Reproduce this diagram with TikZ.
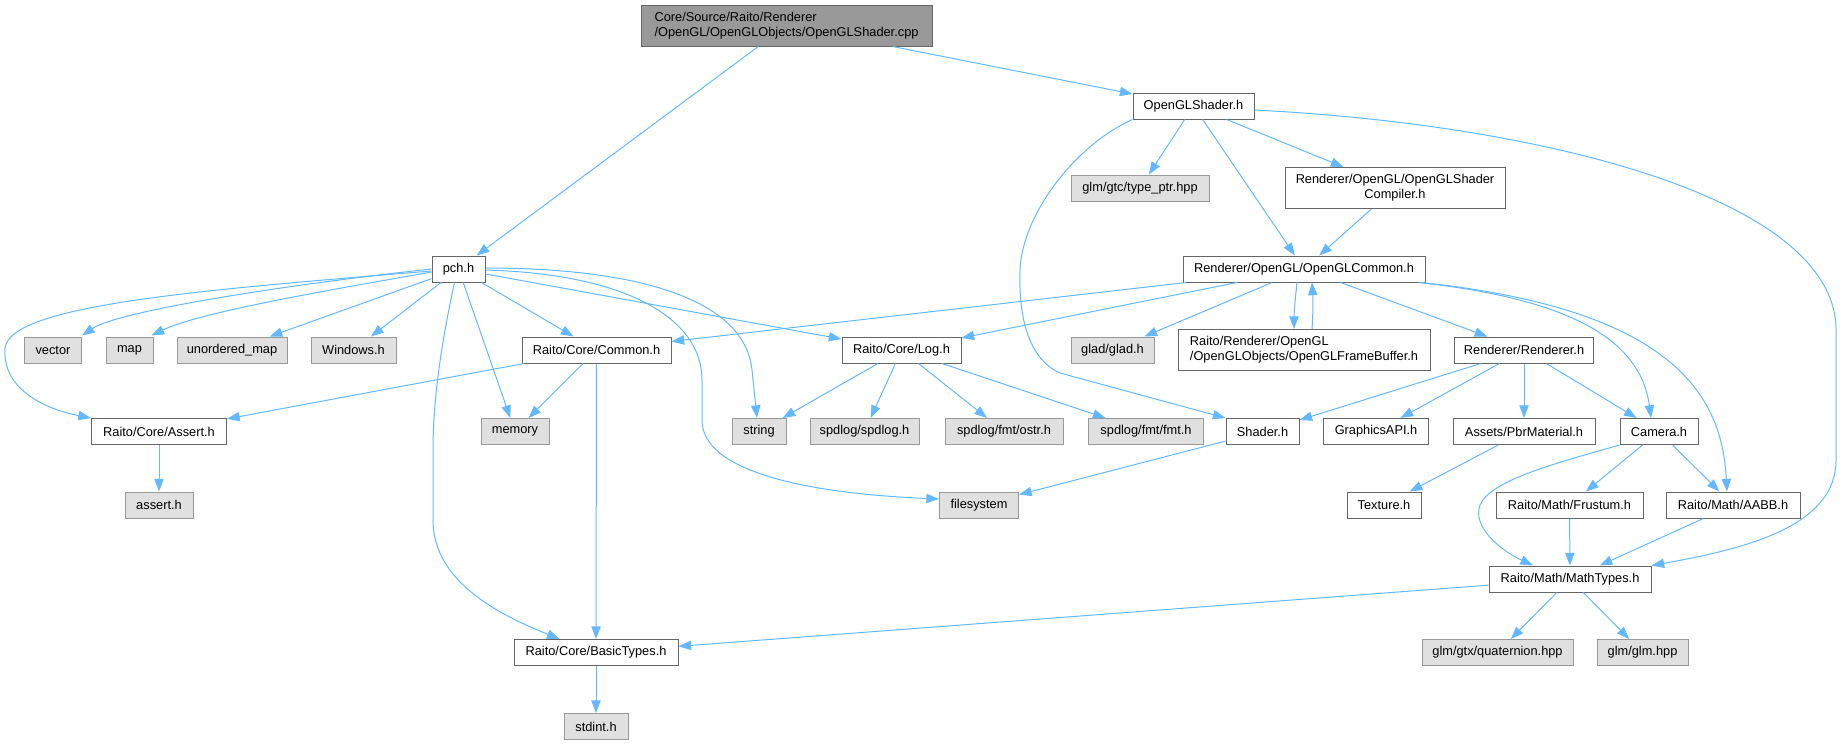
\documentclass[tikz,border=0pt]{standalone}
\usepackage{fontspec}
\setmainfont{Liberation Sans}
\usetikzlibrary{arrows.meta,calc}
\definecolor{edgec}{HTML}{63B8FF}
\definecolor{bordwhite}{HTML}{666666}
\definecolor{bordext}{HTML}{999999}
\definecolor{fillext}{HTML}{E0E0E0}
\definecolor{fillroot}{HTML}{999999}
\tikzset{
  box/.style={draw=bordwhite, fill=white, line width=0.75pt, inner sep=0pt,
    minimum height=19.5pt, font=\fontsize{9.6}{11.25}\selectfont},
  ext/.style={box, draw=bordext, fill=fillext},
  rootbox/.style={box, draw=bordwhite, fill=fillroot},
  two/.style={minimum height=30.75pt},
  bw/.style={minimum width=#1*0.75pt},
  conn/.style={draw=edgec, line width=0.75pt, -{Triangle[length=9.5pt,width=7pt]}},
}
\begin{document}
\begin{tikzpicture}[x=0.75pt,y=-0.75pt]
\useasboundingbox (0,0) rectangle (1844,744);
% row 0
\node[rootbox,bw=291,two,align=left] (root) at (786.5,25.5) {Core/Source/Raito/Renderer\\/OpenGL/OpenGLObjects/OpenGLShader.cpp};
% row 1
\node[box,bw=121] (oglsh) at (1193.5,106) {OpenGLShader.h};
% row 2
\node[ext,bw=138] (typeptr) at (1140,188) {glm/gtc/type\_ptr.hpp};
\node[box,bw=220,two,align=center] (compiler) at (1395,188) {Renderer/OpenGL/OpenGLShader\\Compiler.h};
% row 3
\node[box,bw=53] (pch) at (458.5,269) {pch.h};
\node[box,bw=242] (oglc) at (1304,269) {Renderer/OpenGL/OpenGLCommon.h};
% row 4
\node[ext,bw=57] (vector) at (53,350) {vector};
\node[ext,bw=47] (map) at (129.5,350) {map};
\node[ext,bw=110] (umap) at (232,350) {unordered\_map};
\node[ext,bw=85] (windows) at (353.5,350) {Windows.h};
\node[box,bw=149] (corecommon) at (596.5,350) {Raito/Core/Common.h};
\node[box,bw=119] (log) at (901.5,350) {Raito/Core/Log.h};
\node[ext,bw=83] (glad) at (1112.5,350) {glad/glad.h};
\node[box,bw=252,two,align=left] (fb) at (1304,350) {Raito/Renderer/OpenGL\\/OpenGLObjects/OpenGLFrameBuffer.h};
\node[box,bw=139] (renderer) at (1524,350) {Renderer/Renderer.h};
% row 5
\node[box,bw=135] (assert) at (159,431.5) {Raito/Core/Assert.h};
\node[ext,bw=68] (memory) at (515,431.5) {memory};
\node[ext,bw=54] (string) at (759,431.5) {string};
\node[ext,bw=109] (spdlog) at (864.5,431.5) {spdlog/spdlog.h};
\node[ext,bw=118] (ostr) at (1004,431.5) {spdlog/fmt/ostr.h};
\node[ext,bw=115] (fmt) at (1146,431.5) {spdlog/fmt/fmt.h};
\node[box,bw=73] (shader) at (1262.5,431.5) {Shader.h};
\node[box,bw=105] (gapi) at (1376,431.5) {GraphicsAPI.h};
\node[box,bw=142] (pbr) at (1524,431.5) {Assets/PbrMaterial.h};
\node[box,bw=78] (camera) at (1659,431.5) {Camera.h};
% row 6
\node[ext,bw=68] (asserth) at (159,505) {assert.h};
\node[ext,bw=79] (filesystem) at (979,505) {filesystem};
\node[box,bw=74] (texture) at (1384,505) {Texture.h};
\node[box,bw=147] (frustum) at (1569.5,505) {Raito/Math/Frustum.h};
\node[box,bw=134] (aabb) at (1733,505) {Raito/Math/AABB.h};
% row 7
\node[box,bw=162] (mathtypes) at (1570,579) {Raito/Math/MathTypes.h};
% row 8
\node[box,bw=164] (basictypes) at (596,652.5) {Raito/Core/BasicTypes.h};
\node[ext,bw=151] (quat) at (1497.5,652.5) {glm/gtx/quaternion.hpp};
\node[ext,bw=91] (glmhpp) at (1642.5,652.5) {glm/glm.hpp};
% row 9
\node[ext,bw=64] (stdint) at (596,726.5) {stdint.h};

% edges from root
\draw[conn] (root) -- (pch);
\draw[conn] (root) -- (oglsh);
% edges from OpenGLShader.h
\draw[conn] (oglsh) -- (typeptr);
\draw[conn] (oglsh) -- (oglc);
\draw[conn] (oglsh) -- (compiler);
\draw[conn] (oglsh.south west) .. controls (1075,145) and (1022,215) .. (1020,270)
   .. controls (1018,330) and (1035,362) .. (1060,373) -- (shader.north west);
\draw[conn] ($(oglsh.east)+(0,4)$) .. controls (1550,125) and (1836,200) .. (1836,330)
   -- (1836,460) .. controls (1836,525) and (1750,548) .. (mathtypes.north east);
\draw[conn] (compiler) -- (oglc);
% edges from pch.h
\draw[conn] ($(pch.west)+(0,0)$) .. controls (300,283) and (120,310) .. ($(vector.north)+(29,-1)$);
\draw[conn] ($(pch.west)+(0,3)$) .. controls (330,290) and (200,312) .. ($(map.north)+(22,-1)$);
\draw[conn] (pch) -- (umap);
\draw[conn] (pch) -- (windows);
\draw[conn] (pch) -- (corecommon);
\draw[conn] (pch) -- (log);
\draw[conn] (pch) -- (memory);
\draw[conn] ($(pch.west)+(0,2)$) .. controls (200,290) and (10,305) .. (5,348)
   .. controls (2,392) and (50,410) .. (assert.north west);
\draw[conn] ($(pch.south)+(-4,0)$) .. controls (441,345) and (433,400) .. (433,450)
   -- (433,520) .. controls (433,582) and (500,615) .. ($(basictypes.north west)+(46,0)$);
\draw[conn] ($(pch.east)+(0,-1)$) .. controls (640,268) and (745,300) .. (752,370) -- ($(string.north)+(-2,0)$);
\draw[conn] ($(pch.east)+(0,1)$) .. controls (630,274) and (702,320) .. (702,380)
   -- (702,420) .. controls (702,470) and (800,493) .. ($(filesystem.west)+(0,-6)$);
% edges from OpenGLCommon.h
\draw[conn] (oglc) -- (corecommon);
\draw[conn] (oglc) -- (log);
\draw[conn] (oglc) -- (glad);
\draw[conn] ($(oglc.south)+(-7,0)$) .. controls (1295,300) and (1294,315) .. ($(fb.north)+(-10,0)$);
\draw[conn] ($(fb.north)+(8,0)$) .. controls (1313,315) and (1313,300) .. ($(oglc.south)+(8,0)$);
\draw[conn] (oglc) -- (renderer);
\draw[conn] ($(oglc.south east)+(-7,0)$) .. controls (1560,298) and (1640,335) .. ($(camera.north)+(-8,0)$);
\draw[conn] ($(oglc.south east)+(-4,0)$) .. controls (1680,310) and (1722,400) .. ($(aabb.north)+(-6,0)$);
% Common.h
\draw[conn] (corecommon) -- (assert);
\draw[conn] (corecommon) -- (memory);
\draw[conn] (corecommon) -- (basictypes);
% Log.h
\draw[conn] (log) -- (string);
\draw[conn] (log) -- (spdlog);
\draw[conn] (log) -- (ostr);
\draw[conn] (log) -- (fmt);
% Renderer.h
\draw[conn] (renderer) -- (shader);
\draw[conn] (renderer) -- (gapi);
\draw[conn] (renderer) -- (pbr);
\draw[conn] (renderer) -- (camera);
% others
\draw[conn] (shader) -- (filesystem);
\draw[conn] (pbr) -- (texture);
\draw[conn] (camera.south west) .. controls (1560,462) and (1490,480) .. (1480,505)
   .. controls (1472,527) and (1500,550) .. ($(mathtypes.north)+(-37,0)$);
\draw[conn] (camera) -- (frustum);
\draw[conn] (camera) -- (aabb);
\draw[conn] (frustum) -- (mathtypes);
\draw[conn] (aabb) -- (mathtypes);
\draw[conn] (mathtypes) -- (basictypes);
\draw[conn] (mathtypes) -- (quat);
\draw[conn] (mathtypes) -- (glmhpp);
\draw[conn] (assert) -- (asserth);
\draw[conn] (basictypes) -- (stdint);
\end{tikzpicture}
\end{document}
